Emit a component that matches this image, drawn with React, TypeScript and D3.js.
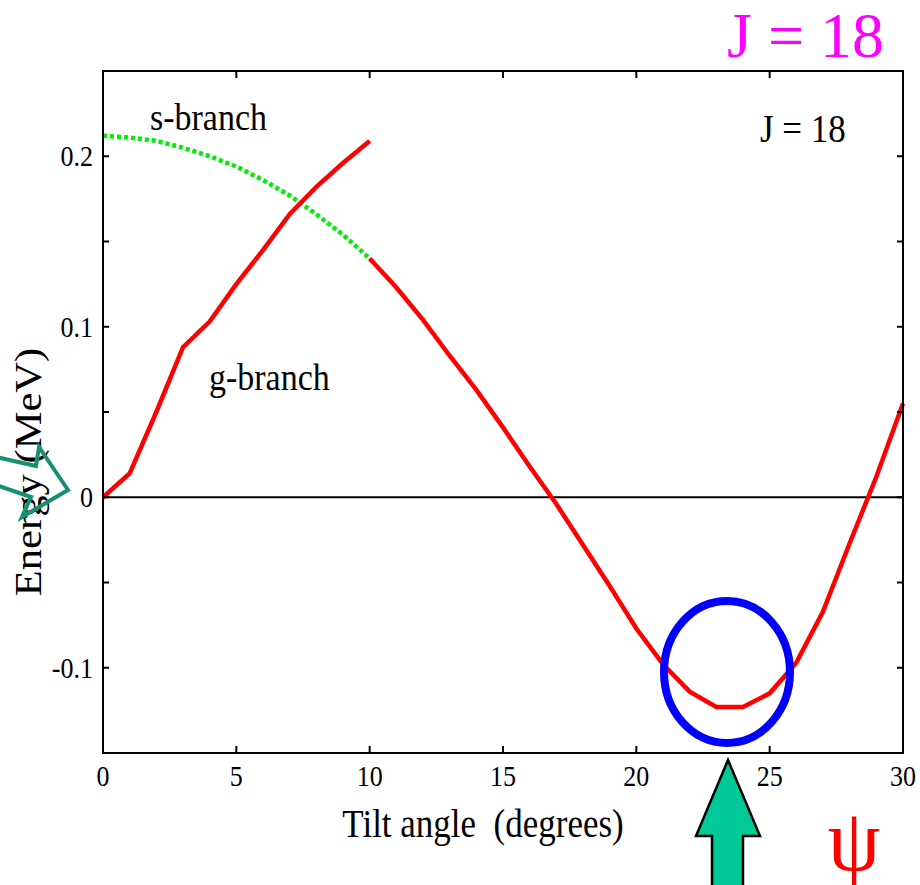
import React from "react";
import * as d3 from "d3";

// Energy of the J = 18 states versus tilt angle
const gBranchAngle = [0, 1, 2, 3, 4, 5, 6, 7, 8, 9, 10];
const gBranchEnergy = [0, 0.014, 0.05, 0.088, 0.103, 0.125, 0.145, 0.166, 0.182, 0.196, 0.209];

const sBranchAngle = [0, 1, 2, 3, 4, 5, 6, 7, 8, 9, 10];
const sBranchEnergy = [0.212, 0.211, 0.209, 0.205, 0.2, 0.194, 0.186, 0.177, 0.166, 0.154, 0.14];

const lowAngle = [10, 11, 12, 13, 14, 15, 16, 17, 18, 19, 20, 21, 22, 23, 24, 25, 26, 27, 28, 29, 30];
const lowEnergy = [
  0.14, 0.123, 0.104, 0.083, 0.063, 0.041, 0.018, -0.004, -0.028, -0.052, -0.077,
  -0.098, -0.114, -0.123, -0.123, -0.115, -0.097, -0.067, -0.027, 0.012, 0.055,
];

const xTicks = [0, 5, 10, 15, 20, 25, 30];
const yTicks = [-0.15, -0.1, -0.05, 0, 0.05, 0.1, 0.15, 0.2, 0.25];
const yLabelTicks = [-0.1, 0, 0.1, 0.2];

const FONT = "'Liberation Serif', 'Times New Roman', serif";
const SY = 1.12;

const x = d3.scaleLinear().domain([0, 30]).range([103, 903]);
const y = d3.scaleLinear().domain([-0.15, 0.25]).range([753, 71]);

const line = d3
  .line<[number, number]>()
  .x((d) => x(d[0]))
  .y((d) => y(d[1]))
  .curve(d3.curveLinear);

const zip = (a: number[], b: number[]) => a.map((v, i) => [v, b[i]] as [number, number]);

const fmtTick = (t: number) => (t === 0 ? "0" : d3.format(".1f")(t).replace("\u2212", "-"));

function Label({
  px,
  py,
  size,
  anchor = "start",
  fill = "#000",
  rotate = 0,
  sy = SY,
  children,
}: {
  px: number;
  py: number;
  size: number;
  anchor?: string;
  fill?: string;
  rotate?: number;
  sy?: number;
  children: React.ReactNode;
}) {
  const t = rotate
    ? `translate(${px},${py}) rotate(${rotate}) scale(${sy},1)`
    : `translate(${px},${py}) scale(1,${sy})`;
  return (
    <text transform={t} fontFamily={FONT} fontSize={size} textAnchor={anchor} fill={fill}>
      {children}
    </text>
  );
}

export default function App() {
  const [x0, x1] = x.range();
  const [yb, yt] = y.range();
  return (
    <svg
      width={920}
      height={885}
      style={{ position: "absolute", left: 0, top: 0, background: "#fff" }}
    >
      <rect width={920} height={885} fill="#fff" />

      {/* zero line */}
      <line x1={x0} x2={x1} y1={y(0)} y2={y(0)} stroke="#000" strokeWidth={2} />

      {/* curves */}
      <path
        d={line(zip(sBranchAngle, sBranchEnergy)) || ""}
        fill="none"
        stroke="#00ee00"
        strokeWidth={4.5}
        strokeDasharray="4 3"
      />
      <path
        d={line(zip(gBranchAngle, gBranchEnergy)) || ""}
        fill="none"
        stroke="#ff0000"
        strokeWidth={4.5}
      />
      <path
        d={line(zip(lowAngle, lowEnergy)) || ""}
        fill="none"
        stroke="#ff0000"
        strokeWidth={4.5}
      />

      {/* frame */}
      <rect x={x0} y={yt} width={x1 - x0} height={yb - yt} fill="none" stroke="#000" strokeWidth={2} />

      {/* ticks */}
      {xTicks.map((t) => (
        <g key={"xt" + t}>
          <line x1={x(t)} x2={x(t)} y1={yb} y2={yb - 7} stroke="#000" strokeWidth={2} />
          <line x1={x(t)} x2={x(t)} y1={yt} y2={yt + 7} stroke="#000" strokeWidth={2} />
          <Label px={x(t)} py={786} size={26} anchor="middle">
            {t}
          </Label>
        </g>
      ))}
      {yTicks.map((t) => (
        <g key={"yt" + t}>
          <line x1={x0} x2={x0 + 6} y1={y(t)} y2={y(t)} stroke="#000" strokeWidth={2} />
          <line x1={x1} x2={x1 - 6} y1={y(t)} y2={y(t)} stroke="#000" strokeWidth={2} />
        </g>
      ))}
      {yLabelTicks.map((t) => (
        <Label key={"yl" + t} px={93} py={y(t) + 10} size={26} anchor="end">
          {fmtTick(t)}
        </Label>
      ))}

      {/* axis titles */}
      <Label px={483} py={837} size={35} anchor="middle">
        {"Tilt angle\u00a0\u00a0(degrees)"}
      </Label>
      <Label px={41} py={472} size={38} anchor="middle" rotate={-90}>
        {"Energy\u00a0(MeV)"}
      </Label>

      {/* curve labels */}
      <Label px={150} py={130} size={34}>
        s-branch
      </Label>
      <Label px={209} py={390} size={34}>
        g-branch
      </Label>
      <Label px={760} py={142} size={35}>
        J = 18
      </Label>

      {/* header */}
      <Label px={727} py={57} size={64} fill="#ff00ff" sy={1}>
        J = 18
      </Label>

      {/* minimum marker */}
      <ellipse
        cx={x(23.4)}
        cy={y(-0.1025)}
        rx={63}
        ry={71}
        fill="none"
        stroke="#0000ff"
        strokeWidth={8}
      />

      {/* arrow under the minimum */}
      <polygon
        points="728,760 696,836 712,836 712,890 743,890 743,836 760,836"
        fill="#00c896"
        stroke="#000"
        strokeWidth={2.5}
      />

      {/* arrow at the origin */}
      <polygon
        points="-4,457 36,466 39,447 68,490 22,517 31,497 -4,485"
        fill="none"
        stroke="#16906f"
        strokeWidth={4}
        strokeLinejoin="miter"
      />

      <Label px={854} py={870} size={84} anchor="middle" fill="#ff0000" sy={1.05}>
        ψ
      </Label>
    </svg>
  );
}
